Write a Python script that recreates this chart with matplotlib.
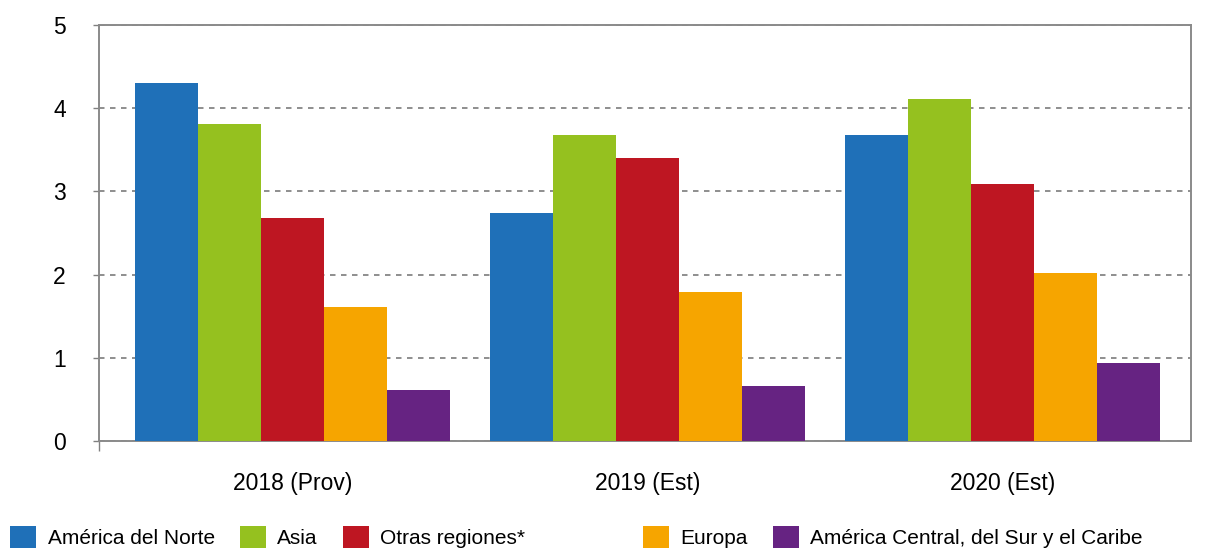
import numpy as np
import matplotlib.pyplot as plt
from matplotlib.patches import Patch

plt.rcParams['font.family'] = ['Liberation Sans', 'DejaVu Sans']

# data
years = ['2018 (Prov)', '2019 (Est)', '2020 (Est)']
regions = ['América del Norte', 'Asia', 'Otras regiones*', 'Europa',
           'América Central, del Sur y el Caribe']
america_norte = [4.30, 2.74, 3.68]
asia = [3.81, 3.68, 4.11]
otras = [2.68, 3.40, 3.09]
europa = [1.61, 1.79, 2.02]
america_central = [0.61, 0.66, 0.94]
colors = ['#1f70b8', '#95c11f', '#be1622', '#f6a500', '#662382']

series = [america_norte, asia, otras, europa, america_central]

fig = plt.figure(figsize=(12.32, 5.49), dpi=100)
ax = fig.add_axes([0.0804, 0.1967, 0.8863, 0.7578])

x = np.arange(len(years))
w = 0.1775
for i, (vals, c) in enumerate(zip(series, colors)):
    ax.bar(x + (i - 2) * w, vals, width=w, color=c, zorder=3)

ax.set_ylim(0, 5)
ax.set_xlim(-0.545, 2.531)
ax.set_yticks([0, 1, 2, 3, 4, 5])
ax.set_xticks(x)
ax.set_xticklabels(years)
ax.yaxis.grid(True, linestyle=(0, (3.6, 3.6)), color='#707070', linewidth=1.1, zorder=0)
ax.tick_params(axis='y', length=4, width=1, color='#808080', pad=20, labelsize=16.5)
ax.tick_params(axis='x', length=0, pad=22, labelsize=16.5)
ax.set_xticks([-0.545], minor=True)
ax.tick_params(axis='x', which='minor', length=7, width=1, color='#808080')
for s in ax.spines.values():
    s.set_color('#8a8a8a')
    s.set_linewidth(1.4)

# legend in two parts, the reference leaves a wider gap after the third entry
handles = [Patch(facecolor=c, edgecolor='none') for c in colors]
leg_kw = dict(loc='lower left', frameon=False, fontsize=15, handlelength=1.25,
              handleheight=1.25, handletextpad=0.55, columnspacing=1.2,
              borderpad=0, borderaxespad=0)
fig.legend(handles[:3], regions[:3], bbox_to_anchor=(10 / 1232, 1 / 549), ncol=3, **leg_kw)
fig.legend(handles[3:], regions[3:], bbox_to_anchor=(643 / 1232, 1 / 549), ncol=2, **leg_kw)

fig.savefig('out.png', dpi=100)
